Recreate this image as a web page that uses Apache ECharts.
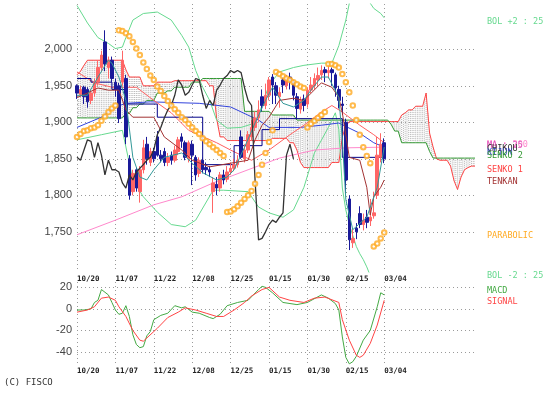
<!DOCTYPE html>
<html><head><meta charset="utf-8">
<script src="https://cdn.jsdelivr.net/npm/echarts@6/dist/echarts.min.js"></script>
<style>html,body{margin:0;padding:0;background:#fff}#c{width:553px;height:396px}</style>
</head><body><div id="c"></div>
<script>
// ---- tick labels ----
const dateLabels = ['10/20','11/07','11/22','12/08','12/25','01/15','01/30','02/15','03/04'];
const dateIdx = [0,11,22,33,44,55,66,77,88];
const priceTicks = [1750,1800,1850,1900,1950,2000];
const macdTicks = [-40,-20,0,20];

// ---- candles (index 0..88) ----
const opens = [1950,1938,1948,1945,1930,1940,1955,1975,2010,1975,
 1985,1955,1950,1955,1960,1850,1805,1835,1805,1835,
 1870,1845,1860,1880,1855,1860,1845,1855,1848,1860,
 1880,1872,1850,1870,1852,1830,1848,1838,1835,1805,
 1815,1810,1828,1822,1832,1837,1842,1880,1850,1862,
 1880,1893,1906,1935,1923,1937,1962,1950,1935,1958,
 1950,1962,1955,1935,1918,1932,1925,1944,1950,1958,
 1965,1972,1968,1972,1965,1945,1925,1900,1795,1735,
 1755,1775,1760,1770,1765,1772,1800,1852,1872];
const closes = [1940,1945,1935,1928,1940,1955,1975,1992,1980,1985,
 1960,1945,1905,1985,1880,1800,1830,1810,1835,1865,
 1850,1860,1850,1855,1850,1845,1852,1848,1862,1876,
 1874,1852,1872,1855,1828,1848,1835,1835,1832,1817,
 1810,1828,1821,1832,1837,1842,1848,1852,1862,1883,
 1893,1906,1917,1923,1937,1958,1951,1937,1941,1951,
 1960,1958,1937,1919,1930,1923,1944,1951,1960,1964,
 1971,1968,1971,1968,1947,1930,1923,1821,1739,1741,
 1750,1760,1766,1763,1770,1776,1855,1870,1850];
const lows = [1932,1935,1925,1920,1925,1935,1950,1970,1970,1960,
 1955,1935,1899,1950,1870,1794,1800,1805,1790,1830,
 1842,1840,1845,1853,1845,1840,1840,1842,1845,1855,
 1865,1848,1845,1814,1820,1825,1830,1828,1825,1776,
 1800,1805,1815,1818,1828,1833,1838,1850,1845,1858,
 1875,1888,1900,1915,1918,1930,1925,1925,1920,1940,
 1945,1945,1930,1905,1912,1915,1920,1940,1945,1950,
 1958,1955,1960,1950,1935,1919,1910,1800,1725,1728,
 1740,1755,1752,1755,1758,1768,1795,1845,1844];
const highs = [1952,1950,1950,1948,1945,1960,1985,1998,2026,1990,
 1990,1960,1954,1998,1965,1855,1835,1838,1840,1876,
 1880,1865,1865,1888,1862,1865,1858,1860,1868,1880,
 1885,1875,1875,1875,1855,1852,1852,1845,1840,1825,
 1825,1832,1835,1840,1845,1850,1855,1889,1870,1888,
 1903,1915,1930,1945,1953,1962,1966,1955,1948,1962,
 1965,1968,1958,1940,1935,1938,1948,1962,1967,1975,
 1978,1976,1978,1975,1968,1950,1935,1905,1800,1755,
 1762,1785,1775,1780,1795,1805,1880,1885,1878];

// ---- ichimoku cloud (index 0..114) ----
const senko1 = [1965,1970,1978,1985,1985,1985,1985,1985,1985,1985,
 1985,1985,1985,1985,1972,1962,1962,1962,1962,1950,
 1950,1950,1950,1955,1955,1955,1955,1955,1957,1957,
 1957,1957,1957,1957,1957,1957,1957,1957,1950,1950,
 1905,1880,1880,1875,1875,1875,1875,1875,1875,1875,
 1875,1875,1875,1875,1875,1875,1878,1878,1878,1878,
 1878,1872,1872,1862,1845,1838,1838,1838,1838,1838,
 1838,1838,1838,1845,1845,1845,1880,1895,1901,1901,
 1901,1901,1901,1901,1901,1901,1901,1901,1901,1901,
 1901,1901,1901,1910,1913,1917,1917,1922,1922,1922,
 1940,1885,1866,1850,1848,1848,1848,1840,1820,1808,
 1825,1835,1838,1840,1840];
const senko2 = [1906,1906,1906,1906,1906,1906,1906,1906,1906,1906,
 1906,1906,1906,1906,1912,1912,1920,1920,1925,1925,
 1930,1930,1930,1940,1940,1940,1943,1943,1948,1948,
 1948,1948,1948,1955,1955,1955,1960,1960,1960,1960,
 1960,1960,1960,1960,1960,1960,1960,1960,1915,1915,
 1915,1915,1915,1915,1915,1915,1910,1910,1910,1910,
 1910,1910,1910,1903,1903,1903,1903,1903,1903,1903,
 1903,1903,1903,1903,1903,1903,1903,1903,1903,1903,
 1903,1903,1903,1903,1903,1903,1903,1903,1903,1903,
 1897,1888,1888,1872,1872,1872,1872,1872,1872,1872,
 1872,1860,1851,1851,1851,1851,1851,1851,1851,1851,
 1851,1851,1851,1851,1851];

// ---- other indicator lines: [index, value] ----
const bolUpper = [[0,2060],[3,2036],[6,2016],[9,2008],[11,2001],[13,2003],[14,2016],[16,2040],[19,2049],[23,2051],[27,2040],[30,2019],[32,2003],[34,1971],[36,1948],[38,1930],[40,1903],[43,1892],[47,1893],[51,1899],[53,1923],[55,1951],[58,1969],[62,1975],[65,1978],[70,1981],[73,1981],[75,2005],[77,2040],[78,2063],[80,2085],[83,2070],[85,2056],[87,2049],[88,2043]];
const bolLower = [[0,1876],[7,1883],[13,1889],[16,1821],[19,1798],[23,1777],[27,1760],[31,1757],[34,1766],[39,1807],[42,1807],[49,1805],[52,1784],[55,1776],[59,1770],[62,1780],[65,1811],[68,1858],[72,1893],[74,1913],[75,1890],[76,1810],[77,1780],[78,1760],[79,1745],[80,1730],[81,1720],[82,1712],[83,1702],[84,1690],[86,1670],[88,1655]];
const ma25 = [[0,1969],[5,1954],[10,1948],[17,1948],[22,1930],[27,1913],[32,1889],[40,1872],[44,1862],[50,1848],[55,1862],[61,1883],[65,1896],[70,1914],[73,1923],[76,1914],[81,1896],[85,1883],[88,1872]];
const ma200 = [[0,1746],[11,1766],[22,1787],[30,1798],[39,1817],[49,1835],[58,1851],[68,1862],[77,1865],[88,1866]];
const tealLine = [[0,1937],[3,1937],[6,1962],[9,1985],[10,1981],[12,1962],[14,1930],[16,1852],[18,1825],[20,1821],[22,1835],[25,1852],[30,1858],[33,1844],[36,1831],[40,1821],[43,1825],[45,1835],[48,1866],[51,1899],[54,1930],[56,1948],[59,1926],[62,1921],[65,1930],[67,1944],[70,1962],[72,1962],[75,1934],[76,1876],[77,1794],[79,1753],[83,1770],[86,1811],[88,1866]];
const tenkan = [[0,1934],[3,1940],[6,1947],[9,1944],[12,1944],[14,1917],[16,1907],[22,1907],[25,1880],[30,1862],[33,1848],[38,1839],[44,1844],[49,1848],[51,1876],[53,1896],[55,1907],[58,1930],[62,1933],[65,1930],[70,1954],[73,1948],[75,1934],[76,1913],[78,1852],[81,1848],[83,1811],[84,1773],[85,1798],[87,1811],[88,1821]];
const kijun = [[0,1960],[4,1955],[10,1945],[14,1925],[23,1907],[36,1842],[45,1868],[53,1890],[58,1905],[76,1852],[88,1852]];
const blueLine = [[0,1893],[7,1907],[11,1921],[14,1926],[21,1928],[35,1926],[44,1921],[52,1903],[55,1893],[64,1893],[70,1896],[75,1899],[81,1885],[85,1872],[88,1866]];
const sar = [1880,1884,1888,1889,1892,1893,1896,1902,1908,1914,
 1919,1923,2026,2025,2022,2018,2010,2001,1992,1982,
 1973,1964,1958,1949,1943,1936,1929,1923,1918,1913,
 1907,1903,1898,1893,1888,1884,1878,1874,1870,1866,
 1862,1858,1854,1777,1778,1781,1785,1790,1795,1800,
 1806,1816,1828,1842,1858,1873,1889,1969,1966,1963,
 1960,1958,1955,1952,1949,1947,1893,1898,1902,1906,
 1910,1914,1980,1980,1978,1975,1966,1955,1941,1923,
 1903,1883,1866,1854,1844,1730,1734,1741,1749];

// ---- MACD panel ----
const macd = [[0,-1],[2,-1],[4,0],[5,6],[6,8],[7,18],[9,13],[10,6],[11,-1],[12,-5],[13,-4],[14,3],[15,-7],[16,-24],[17,-33],[18,-36],[19,-35],[20,-25],[21,-21],[22,-10],[24,-6],[26,-4],[28,3],[30,1],[31,2],[33,-3],[35,-4],[38,-8],[39,-9],[41,-5],[43,3],[46,6],[49,8],[52,18],[53,21],[54,20],[56,15],[59,6],[63,4],[66,6],[70,13],[72,10],[74,5],[75,-1],[76,-26],[77,-45],[78,-51],[79,-49],[80,-44],[82,-29],[84,-20],[86,2],[87,15],[88,13]];
const signal = [[0,-3],[3,-1],[5,2],[7,10],[9,11],[11,8],[12,2],[14,-7],[16,-20],[18,-29],[19,-30],[20,-27],[23,-18],[26,-8],[29,-3],[31,1],[34,-1],[37,-4],[40,-7],[42,-7],[45,-1],[48,6],[50,12],[53,18],[55,20],[58,11],[61,8],[65,6],[68,10],[71,11],[75,6],[76,-10],[78,-29],[80,-43],[81,-45],[82,-43],[84,-32],[86,-15],[88,8]];

const CHIKOU_SHIFT = 26;
const N = senko1.length;
const cats = Array.from({length: N}, (_, i) => String(i));

const dotted = {show: true, lineStyle: {color: '#9a9a9a', type: [1, 3], width: 1}};
const showAt = (idx) => dateIdx.indexOf(idx) >= 0;
const xLabel = {
  interval: (idx) => showAt(idx),
  formatter: (v, idx) => dateLabels[dateIdx.indexOf(idx)] || '',
  align: 'left', color: '#222', fontSize: 7.5, fontWeight: 'bold',
  fontFamily: 'DejaVu Sans Mono'
};
function line(data, color, extra) {
  return Object.assign({type: 'line', data: data, showSymbol: false, symbol: 'none',
    lineStyle: {color: color, width: 1}, itemStyle: {color: color}, silent: true,
    xAxisIndex: 0, yAxisIndex: 0}, extra || {});
}
function renderHatch(params, api) {
  const i = api.value(0);
  const p1 = api.coord([i, api.value(1)]), p2 = api.coord([i, api.value(2)]);
  const st = {stroke: '#b4b4b4', lineWidth: 1, lineDash: [1, 1]};
  const ch = [{type: 'line', shape: {x1: p1[0], y1: p1[1], x2: p2[0], y2: p2[1]}, style: st}];
  if (i < N - 1) {
    const q1 = api.coord([i + 1, api.value(3)]), q2 = api.coord([i + 1, api.value(4)]);
    const mx = (p1[0] + q1[0]) / 2;
    ch.push({type: 'line', shape: {x1: mx, y1: (p1[1] + q1[1]) / 2, x2: mx, y2: (p2[1] + q2[1]) / 2}, style: st});
  }
  return {type: 'group', children: ch};
}
const hatchData = senko1.map((a, i) => [i, a, senko2[i], i + 1 < N ? senko1[i + 1] : a, i + 1 < N ? senko2[i + 1] : senko2[i]]);
const candleData = opens.map((o, i) => [o, closes[i], lows[i], highs[i]]);
const chikouData = closes.slice(CHIKOU_SHIFT).map((c, k) => [k, c]);

const mono = '"DejaVu Sans Mono"';
function txt(t, x, y, color) {
  return {type: 'text', x: x, y: y, silent: true,
    style: {text: t, fill: color, font: '8.5px ' + mono, verticalAlign: 'middle'}};
}

const chart = echarts.init(document.getElementById('c'));
chart.setOption({
  animation: false,
  backgroundColor: '#fff',
  grid: [
    {left: 77, width: 398, top: 4, height: 268},
    {left: 77, width: 398, top: 282, height: 84}
  ],
  xAxis: [
    {gridIndex: 0, type: 'category', data: cats, boundaryGap: false,
     axisLine: {show: false}, axisTick: {show: false},
     axisLabel: Object.assign({margin: 3}, xLabel),
     splitLine: Object.assign({interval: (idx) => showAt(idx)}, dotted)},
    {gridIndex: 1, type: 'category', data: cats, boundaryGap: false,
     axisLine: {show: false}, axisTick: {show: false},
     axisLabel: Object.assign({margin: 1}, xLabel),
     splitLine: Object.assign({interval: (idx) => showAt(idx)}, dotted)}
  ],
  yAxis: [
    {gridIndex: 0, type: 'value', min: 1695, max: 2062, scale: true,
     axisLine: {show: false}, axisTick: {show: false, customValues: priceTicks},
     axisLabel: {customValues: priceTicks, formatter: (v) => Number(v).toLocaleString('en-US'),
       color: '#444', fontSize: 11, fontFamily: 'Liberation Sans', margin: 5},
     splitLine: dotted},
    {gridIndex: 1, type: 'value', min: -53, max: 25,
     axisLine: {show: false}, axisTick: {show: false, customValues: macdTicks},
     axisLabel: {customValues: macdTicks, color: '#444', fontSize: 11, fontFamily: 'Liberation Sans', margin: 5},
     splitLine: dotted}
  ],
  series: [
    {type: 'custom', data: hatchData, renderItem: renderHatch, xAxisIndex: 0, yAxisIndex: 0,
     encode: {x: 0, y: [1, 2]}, clip: true, silent: true, z: 1},
    line(senko1, '#ff4444', {z: 2}),
    line(senko2, '#339933', {z: 2}),
    line(bolUpper, '#66d98f', {z: 2}),
    line(bolLower, '#66d98f', {z: 2}),
    line(ma200, '#ff88cc', {z: 2}),
    line(blueLine, '#3344dd', {z: 2}),
    line(ma25, '#ff6060', {z: 2}),
    line(kijun, '#000088', {z: 2, step: 'end'}),
    {type: 'candlestick', data: candleData, xAxisIndex: 0, yAxisIndex: 0, barWidth: 3, silent: true, z: 3,
     itemStyle: {color: '#ff6666', color0: '#1a1a99', borderColor: '#ff6666', borderColor0: '#1a1a99', borderWidth: 1}},
    line(tenkan, '#a33333', {z: 4}),
    line(tealLine, '#339999', {z: 4}),
    line(chikouData, '#333333', {z: 4, lineStyle: {color: '#333333', width: 1.3}}),
    {type: 'scatter', data: sar, xAxisIndex: 0, yAxisIndex: 0, symbol: 'emptyCircle', symbolSize: 4.5,
     itemStyle: {color: '#ffaa22', borderColor: '#ffaa22', borderWidth: 1.3}, silent: true, z: 5},
    line(macd, '#44aa44', {xAxisIndex: 1, yAxisIndex: 1, z: 4}),
    line(signal, '#ff4444', {xAxisIndex: 1, yAxisIndex: 1, z: 4})
  ],
  graphic: [
    txt('BOL +2 : 25', 487, 22, '#66d98f'),
    txt('MA : 200', 487, 145, '#ff88cc'),
    txt('MA : 25', 487, 146, '#dd55bb'),
    txt('CHIKOU', 487, 149, '#333333'),
    txt('KIJUN', 487, 153, '#3344bb'),
    txt('SENKO 2', 487, 156, '#339933'),
    txt('SENKO 1', 487, 170, '#ff4444'),
    txt('TENKAN', 487, 182, '#a33333'),
    txt('PARABOLIC', 487, 236, '#ffaa22'),
    txt('BOL -2 : 25', 487, 276, '#66d98f'),
    txt('MACD', 487, 291, '#44aa44'),
    txt('SIGNAL', 487, 302, '#ff4444'),
    {type: 'text', x: 4, y: 383, silent: true,
     style: {text: '(C) FISCO', fill: '#333', font: '9px ' + mono, verticalAlign: 'middle'}}
  ]
});
</script></body></html>
